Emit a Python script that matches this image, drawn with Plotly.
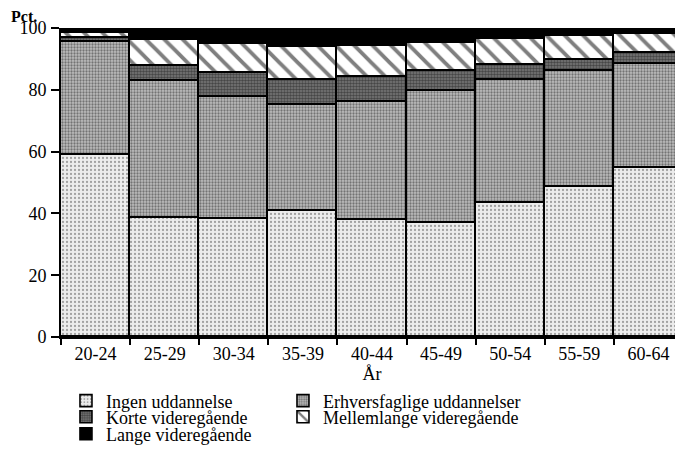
import plotly.graph_objects as go

categories = ["20-24", "25-29", "30-34", "35-39", "40-44", "45-49", "50-54", "55-59", "60-64"]

ingen = [58.9, 38.4, 38.1, 40.8, 38.0, 37.0, 43.3, 48.6, 54.6]
erhverv = [36.7, 44.4, 39.5, 34.2, 38.1, 42.6, 40.0, 37.4, 33.9]
korte = [1.2, 5.0, 7.9, 8.3, 8.1, 6.5, 4.6, 3.6, 3.4]
mellemlange = [1.7, 8.3, 9.2, 10.6, 9.9, 9.2, 8.4, 7.7, 6.0]
lange = [1.5, 3.9, 5.3, 6.1, 5.9, 4.7, 3.7, 2.7, 2.1]

y_ticks = [0, 20, 40, 60, 80, 100]

FONT = "Liberation Serif"

series = [
    ("Ingen uddannelse", ingen, dict(color="#e6e6e6", pattern=dict(shape=".", fgcolor="#555555", bgcolor="#ececec", size=4, solidity=0.25)), "legend", 172),
    ("Erhversfaglige uddannelser", erhverv, dict(color="#a8a8a8", pattern=dict(shape=".", fgcolor="#2a2a2a", bgcolor="#bdbdbd", size=3, solidity=0.45)), "legend", 230),
    ("Korte videregående", korte, dict(color="#666666", pattern=dict(shape=".", fgcolor="#111111", bgcolor="#7a7a7a", size=3, solidity=0.55)), "legend2", 172),
    ("Mellemlange videregående", mellemlange, dict(color="white", pattern=dict(shape="\\", fgcolor="black", bgcolor="white", size=13, solidity=0.3)), "legend2", 230),
    ("Lange videregående", lange, dict(color="black"), "legend3", 172),
]

fig = go.Figure()
for name, vals, marker, leg, lw in series:
    m = dict(marker)
    m["line"] = dict(color="black", width=1.6)
    fig.add_trace(go.Bar(x=categories, y=vals, name=name, marker=m, legend=leg, legendwidth=lw))

legend_common = dict(
    orientation="h", xanchor="left", yanchor="middle", x=0.008,
    traceorder="normal",
    font=dict(family=FONT, size=18, color="black"),
    bgcolor="rgba(0,0,0,0)", borderwidth=0, itemclick=False,
)

fig.update_layout(
    width=683, height=449,
    margin=dict(l=53, r=8, t=20, b=120, pad=0, autoexpand=False),
    barmode="stack", bargap=0,
    plot_bgcolor="white", paper_bgcolor="white",
    font=dict(family=FONT, size=18, color="black"),
    showlegend=True,
    legend=dict(legend_common, y=-0.207),
    legend2=dict(legend_common, y=-0.259),
    legend3=dict(legend_common, y=-0.314),
    xaxis=dict(
        type="category", range=[-0.5, 8.5],
        showline=True, linecolor="black", linewidth=2,
        ticks="outside", tickson="boundaries", ticklen=6, tickwidth=2, tickcolor="black",
        tickfont=dict(family=FONT, size=18, color="black"),
        ticklabelstandoff=-1,
        title=dict(text="År", font=dict(family=FONT, size=18, color="black"), standoff=0),
        showgrid=False, zeroline=False,
    ),
    yaxis=dict(
        range=[0, 100], tickvals=y_ticks,
        showline=True, linecolor="black", linewidth=2,
        ticks="outside", ticklen=8, tickwidth=2, tickcolor="black",
        tickfont=dict(family=FONT, size=18, color="black"),
        ticklabelstandoff=1,
        showgrid=False, zeroline=False,
    ),
    annotations=[dict(
        text="<b>Pct.</b>", xref="paper", yref="paper", x=-0.06, y=1.036,
        xanchor="center", yanchor="middle", showarrow=False,
        font=dict(family=FONT, size=16, color="black"),
    )],
)

fig.write_html("out.html")
